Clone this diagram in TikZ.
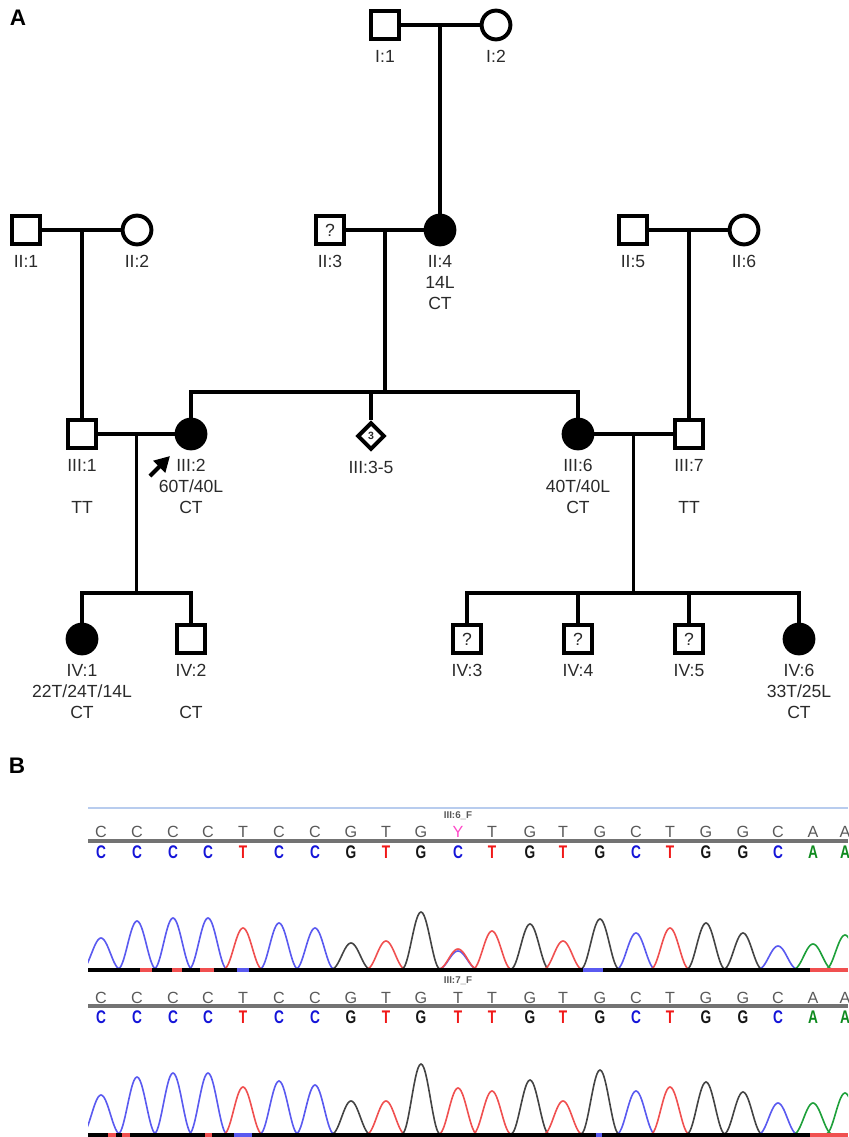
\documentclass[tikz,border=0pt]{standalone}
\usepackage{fontspec}
\setmainfont{Liberation Sans}
\usetikzlibrary{positioning,arrows.meta,shapes.geometric,calc}
\definecolor{lblc}{HTML}{2A2A2A}
\definecolor{bC}{HTML}{1414D8}
\definecolor{bT}{HTML}{F01818}
\definecolor{bG}{HTML}{151515}
\definecolor{bA}{HTML}{0E8A1E}
\definecolor{bY}{HTML}{FF48C8}
\definecolor{trC}{HTML}{5A5AF0}
\definecolor{trT}{HTML}{F05050}
\definecolor{trG}{HTML}{444444}
\definecolor{trA}{HTML}{1EA03A}
\definecolor{seqtop}{HTML}{B8CCEE}
\colorlet{tC}{black!65}
\colorlet{tT}{black!65}
\colorlet{tG}{black!65}
\colorlet{tA}{black!65}
\colorlet{tY}{bY}
\tikzset{
  male/.style={rectangle, draw, line width=3.2pt, minimum size=0.7cm, inner sep=0pt, fill=white},
  maleq/.style={male, font=\fontsize{12.5}{12.5}\selectfont, text=lblc},
  female/.style={circle, draw, line width=2.8pt, minimum size=0.72cm, inner sep=0pt, fill=white},
  affected/.style={female, fill=black},
  sibs/.style={diamond, draw, line width=2.8pt, minimum size=0.68cm, inner sep=0pt,
               fill=white, font=\fontsize{7.5}{7.5}\selectfont\bfseries, text=lblc},
  lbl/.style={align=center, inner sep=0pt, font=\fontsize{12.5}{15}\selectfont, text=lblc},
  rel/.style={line width=2.6pt},
  proband/.style={-{Triangle[length=3.8mm,width=4mm]}, line width=3pt},
  panel/.style={inner sep=0pt, font=\fontsize{16}{16}\selectfont\bfseries},
  call/.style={inner sep=0pt, font=\fontsize{11.5}{11.5}\selectfont},
  bcall/.style={inner sep=0pt, font=\fontsize{13}{13}\selectfont\bfseries},
  tag/.style={inner sep=0pt, font=\fontsize{7}{7}\selectfont\bfseries, text=black!65},
  trace/.style={line width=1.15pt},
  rule/.style={line width=2.4pt, draw=black!55},
  baseln/.style={line width=2.6pt, draw=black}
}
\newcommand\peak[4]{\draw[trace, draw=#1] plot[domain=-19:19, samples=27, smooth]
  ({#2+\x}, {#3-#4*(1+cos(180*\x/19))/2});}

\begin{document}
\begin{tikzpicture}[x=0.025cm, y=-0.025cm]
\useasboundingbox (0,0) rectangle (848,1137);

% ---------- A: pedigree ----------
\node[panel] (pa) at (18,18) {A};

% generation I
\node[male] (i1) at (385,25) {};
\node[female] (i2) at (496,25) {};
% generation II
\node[male] (ii1) at (26,230) {};
\node[female] (ii2) at (137,230) {};
\node[maleq] (ii3) at (330,230) {?};
\node[affected] (ii4) at (440,230) {};
\node[male] (ii5) at (633,230) {};
\node[female] (ii6) at (744,230) {};
% generation III
\node[male] (iii1) at (82,434) {};
\node[affected] (iii2) at (191,434) {};
\node[sibs] (iii3) at (371,436) {3};
\node[affected] (iii6) at (578,434) {};
\node[male] (iii7) at (689,434) {};
% generation IV
\node[affected] (iv1) at (82,639) {};
\node[male] (iv2) at (191,639) {};
\node[maleq] (iv3) at (467,639) {?};
\node[maleq] (iv4) at (578,639) {?};
\node[maleq] (iv5) at (689,639) {?};
\node[affected] (iv6) at (799,639) {};

% labels
\node[lbl, below=0.22cm of i1] (li1) {I:1};
\node[lbl, below=0.22cm of i2] (li2) {I:2};
\node[lbl, below=0.22cm of ii1] (lii1) {II:1};
\node[lbl, below=0.22cm of ii2] (lii2) {II:2};
\node[lbl, below=0.22cm of ii3] (lii3) {II:3};
\node[lbl, below=0.22cm of ii4] (lii4) {II:4\\14L\\CT};
\node[lbl, below=0.22cm of ii5] (lii5) {II:5};
\node[lbl, below=0.22cm of ii6] (lii6) {II:6};
\node[lbl, below=0.22cm of iii1] (liii1) {III:1\\~\\TT};
\node[lbl, below=0.22cm of iii2] (liii2) {III:2\\60T/40L\\CT};
\node[lbl, below=0.24cm of iii3] (liii3) {III:3-5};
\node[lbl, below=0.22cm of iii6] (liii6) {III:6\\40T/40L\\CT};
\node[lbl, below=0.22cm of iii7] (liii7) {III:7\\~\\TT};
\node[lbl, below=0.22cm of iv1] (liv1) {IV:1\\22T/24T/14L\\CT};
\node[lbl, below=0.22cm of iv2] (liv2) {IV:2\\~\\CT};
\node[lbl, below=0.22cm of iv3] (liv3) {IV:3};
\node[lbl, below=0.22cm of iv4] (liv4) {IV:4};
\node[lbl, below=0.22cm of iv5] (liv5) {IV:5};
\node[lbl, below=0.22cm of iv6] (liv6) {IV:6\\33T/25L\\CT};

% couples and lines of descent
\coordinate (m1) at ($(i1)!0.5!(i2)$);
\coordinate (m2) at ($(ii1)!0.5!(ii2)$);
\coordinate (m3) at ($(ii3)!0.5!(ii4)$);
\coordinate (m4) at ($(ii5)!0.5!(ii6)$);
\coordinate (m5) at ($(iii1)!0.5!(iii2)$);
\coordinate (m6) at ($(iii6)!0.5!(iii7)$);
\coordinate (s3) at (m3 |- 0,392);
\coordinate (s5) at (m5 |- 0,593);
\coordinate (s6) at (m6 |- 0,593);

\draw[rel] (i1) -- (i2);  \draw[rel] (m1 -| ii4) -- (ii4);
\draw[rel] (ii1) -- (ii2); \draw[rel] (m2 -| iii1) -- (iii1);
\draw[rel] (ii3) -- (ii4); \draw[rel] (m3) -- (s3);
\draw[rel] (ii5) -- (ii6); \draw[rel] (m4 -| iii7) -- (iii7);
\draw[rel] (iii2) |- (s3) -| (iii6); \draw[rel] (s3 -| iii3) -- (iii3);
\draw[rel] (iii1) -- (iii2); \draw[rel] (m5) -- (s5);
\draw[rel] (iv1) |- (s5) -| (iv2);
\draw[rel] (iii6) -- (iii7); \draw[rel] (m6) -- (s6);
\draw[rel] (iv3) |- (s6) -| (iv6);
\draw[rel] (s6 -| iv4) -- (iv4); \draw[rel] (s6 -| iv5) -- (iv5);

% proband
\coordinate (pbt) at (150,476);
\coordinate (pbh) at (170,456);
\draw[proband] (pbt) -- (pbh);

% ---------- B: sequence traces ----------
\node[panel] (pb) at (17,766) {B};
\begin{scope}
\clip (88,790) rectangle (848,1137);
\draw[line width=0.8pt, draw=seqtop] (88,808) -- (848,808);
\node[tag] (t6) at (458,816) {III:6\_F};
\draw[rule] (88,841) -- (848,841);
\foreach \p/\a/\b [count=\k] in {101/C/C,137/C/C,173/C/C,208/C/C,243/T/T,279/C/C,
    315/C/C,351/G/G,386/T/T,421/G/G,458/Y/C,492/T/T,530/G/G,563/T/T,600/G/G,
    636/C/C,670/T/T,706/G/G,743/G/G,778/C/C,813/A/A,845/A/A}{
  \node[call, text=t\a] (ca\k) at (\p,832) {\a};
  \node[bcall, text=b\b] (cb\k) at (\p,852) {\scalebox{0.75}[1]{\b}};
}
\foreach \p/\b/\h in {101/C/31,137/C/48,173/C/51,208/C/51,243/T/41,279/C/46,
    315/C/41,351/G/26,386/T/28,421/G/57,458/C/18,458/T/20,492/T/38,530/G/45,
    563/T/28,600/G/50,636/C/36,670/T/41,706/G/46,743/G/36,778/C/23,813/A/25,845/A/34}{
  \peak{tr\b}{\p}{969}{\h}
}
\draw[baseln] (88,970) -- (848,970);
\foreach \u/\v/\c in {140/152/trT,172/182/trT,200/214/trT,237/249/trC,383/390/black,
    490/496/black,560/566/black,583/603/trC,667/673/black,810/848/trT}{
  \draw[line width=2.6pt, draw=\c] (\u,970) -- (\v,970);
}

\node[tag] (t7) at (458,981) {III:7\_F};
\draw[rule] (88,1006) -- (848,1006);
\foreach \p/\a [count=\k] in {101/C,137/C,173/C,208/C,243/T,279/C,315/C,351/G,
    386/T,421/G,458/T,492/T,530/G,563/T,600/G,636/C,670/T,706/G,743/G,778/C,
    813/A,845/A}{
  \node[call, text=t\a] (da\k) at (\p,998) {\a};
  \node[bcall, text=b\a] (db\k) at (\p,1017) {\scalebox{0.75}[1]{\a}};
}
\foreach \p/\b/\h in {101/C/39,137/C/57,173/C/61,208/C/61,243/T/47,279/C/53,
    315/C/49,351/G/33,386/T/33,421/G/70,458/T/46,492/T/43,530/G/54,563/T/33,
    600/G/64,636/C/43,670/T/47,706/G/52,743/G/42,778/C/31,813/A/31,845/A/41}{
  \peak{tr\b}{\p}{1134}{\h}
}
\draw[baseln] (88,1135) -- (848,1135);
\foreach \u/\v/\c in {108/116/trT,122/130/trT,205/212/trT,234/252/trC,384/390/black,
    490/496/black,560/566/black,596/602/trC,810/848/trT}{
  \draw[line width=2.6pt, draw=\c] (\u,1135) -- (\v,1135);
}
\end{scope}
\end{tikzpicture}
\end{document}
